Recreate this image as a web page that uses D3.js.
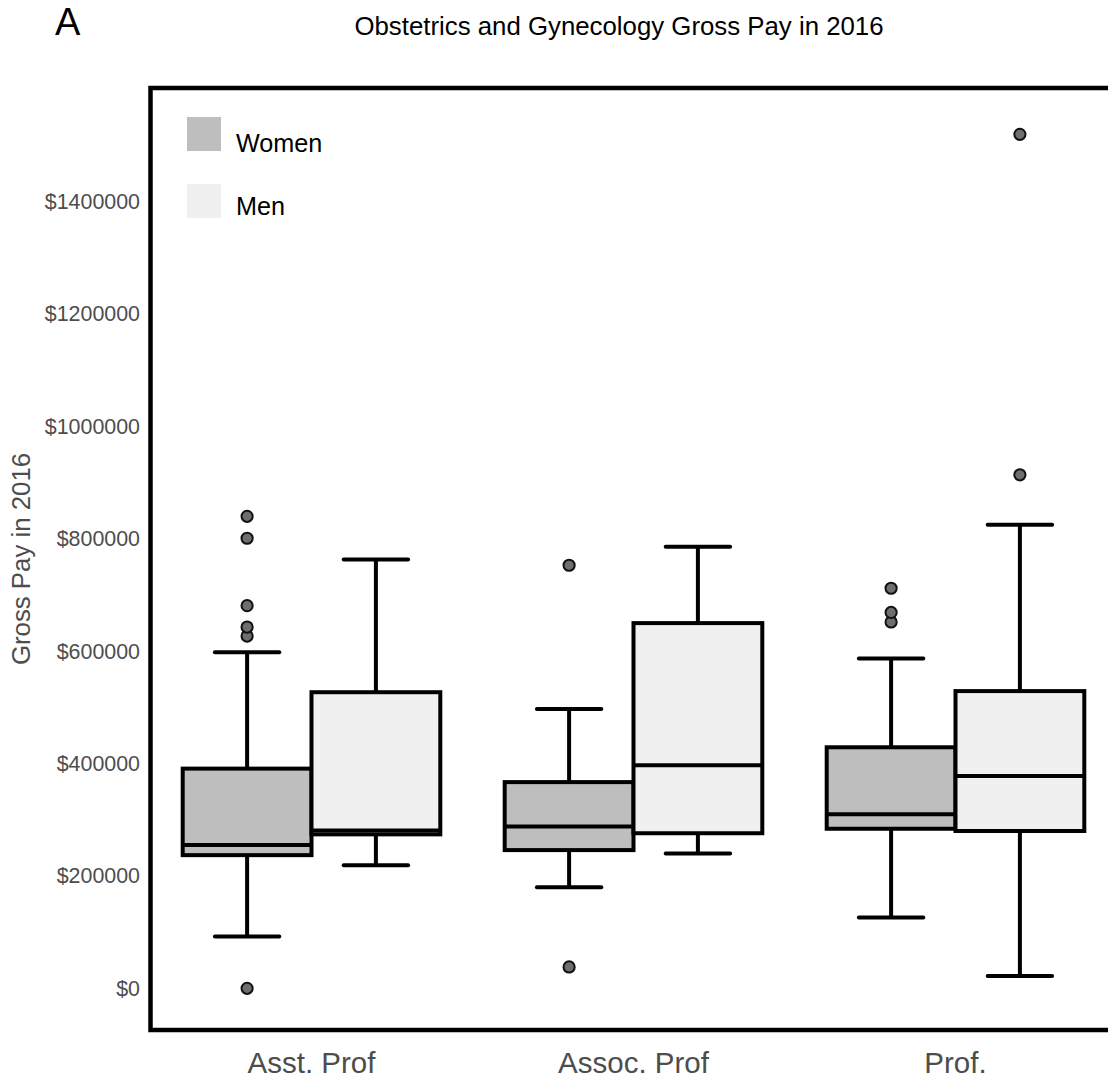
<!DOCTYPE html>
<html>
<head>
<meta charset="utf-8">
<script src="https://cdn.jsdelivr.net/npm/d3@7"></script>
<style>
  body { margin: 0; background: #fff; overflow: hidden; }
  text { font-family: "Liberation Sans", Arial, Helvetica, sans-serif; }
</style>
</head>
<body>
<svg id="chart" width="1108" height="1080"></svg>
<script>
// Data
const categories = ["Asst. Prof", "Assoc. Prof", "Prof."];
const groups = ["Women", "Men"];
const groupFills = ["#bebebe", "#f0f0f0"];

// five-number summaries per category: lower whisker, Q1, median, Q3, upper whisker
const womenBoxes = [
    [92000, 237000, 255000, 391000, 598000],
    [180000, 246000, 288000, 367000, 497000],
    [126000, 284000, 310000, 429000, 587000]
];
const menBoxes = [
    [219000, 274000, 281000, 527000, 763000],
    [240000, 276000, 397000, 650000, 786000],
    [22000, 280000, 378000, 529000, 825000]
];
const womenOutliers = [
    [0, 627000, 643000, 681000, 801000, 840000],
    [38000, 753000],
    [652000, 669000, 712000]
];
const menOutliers = [
    [],
    [],
    [914000, 1520000]
];
const yTicks = [0, 200000, 400000, 600000, 800000, 1000000, 1200000, 1400000];

let viewBoxplot = {
    render: function() {
        const svg = d3.select("#chart");
        svg.selectAll("*").remove();

        const panel = { left: 150.5, top: 88, right: 1116.5, bottom: 1030 };
        const lw = 4;

        // build rows for drawing
        let rows = [];
        categories.forEach((c, i) => {
            [womenBoxes, menBoxes].forEach((boxes, g) => {
                const s = boxes[i];
                rows.push({
                    category: c, group: groups[g], fill: groupFills[g],
                    lo: s[0], q1: s[1], med: s[2], q3: s[3], hi: s[4],
                    outliers: [womenOutliers, menOutliers][g][i]
                });
            });
        });

        // Scales
        const x = d3.scaleBand()
            .domain(categories)
            .range([panel.left, panel.right])
            .paddingInner(0)
            .paddingOuter(0);
        const xGroup = d3.scaleBand()
            .domain(groups)
            .range([0, x.bandwidth()])
            .paddingInner(0)
            .paddingOuter(0.25);
        const y = d3.scaleLinear()
            .domain([-74200, 1602400])
            .range([panel.bottom, panel.top]);

        const bw = xGroup.bandwidth();
        const cx = d => x(d.category) + xGroup(d.group) + bw / 2;

        const plot = svg.append("g");

        // outliers
        rows.forEach(d => {
            plot.selectAll(null)
                .data(d.outliers)
                .enter().append("circle")
                .attr("cx", cx(d))
                .attr("cy", v => y(v))
                .attr("r", 5.6)
                .attr("fill", "#6e6e6e")
                .attr("stroke", "#111")
                .attr("stroke-width", 2);
        });

        const boxes = plot.selectAll(".box").data(rows).enter().append("g")
            .attr("class", "box");

        // whiskers
        boxes.append("line")
            .attr("x1", cx).attr("x2", cx)
            .attr("y1", d => y(d.q3)).attr("y2", d => y(d.hi))
            .attr("stroke", "#000").attr("stroke-width", lw);
        boxes.append("line")
            .attr("x1", cx).attr("x2", cx)
            .attr("y1", d => y(d.q1)).attr("y2", d => y(d.lo))
            .attr("stroke", "#000").attr("stroke-width", lw);
        // whisker caps
        ["hi", "lo"].forEach(k => {
            boxes.append("line")
                .attr("x1", d => cx(d) - bw / 4).attr("x2", d => cx(d) + bw / 4)
                .attr("y1", d => y(d[k])).attr("y2", d => y(d[k]))
                .attr("stroke", "#000").attr("stroke-width", lw)
                .attr("stroke-linecap", "round");
        });

        // boxes
        boxes.append("rect")
            .attr("x", d => cx(d) - bw / 2)
            .attr("width", bw)
            .attr("y", d => y(d.q3))
            .attr("height", d => y(d.q1) - y(d.q3))
            .attr("fill", d => d.fill)
            .attr("stroke", "#000")
            .attr("stroke-width", lw);
        boxes.append("line")
            .attr("x1", d => cx(d) - bw / 2).attr("x2", d => cx(d) + bw / 2)
            .attr("y1", d => y(d.med)).attr("y2", d => y(d.med))
            .attr("stroke", "#000").attr("stroke-width", lw);

        // frame
        svg.append("rect")
            .attr("x", panel.left).attr("y", panel.top)
            .attr("width", panel.right - panel.left)
            .attr("height", panel.bottom - panel.top)
            .attr("fill", "none")
            .attr("stroke", "#000")
            .attr("stroke-width", 4.5);

        // Axes
        const yAxis = d3.axisLeft(y)
            .tickValues(yTicks)
            .tickSize(0)
            .tickPadding(10.5)
            .tickFormat(d => "$" + d);
        const gy = svg.append("g")
            .attr("transform", `translate(${panel.left},0)`)
            .call(yAxis);
        gy.select(".domain").remove();
        gy.selectAll("text")
            .style("font-size", "21.4px")
            .attr("fill", "#4d4d4d");

        const xAxis = d3.axisBottom(x)
            .tickSize(0)
            .tickPadding(22.4);
        const gx = svg.append("g")
            .attr("transform", `translate(0,${panel.bottom})`)
            .call(xAxis);
        gx.select(".domain").remove();
        gx.selectAll("text")
            .style("font-size", "29.5px")
            .attr("fill", "#4d4d4d");

        // axis title
        svg.append("text")
            .attr("transform", `translate(30,${(panel.top + panel.bottom) / 2}) rotate(-90)`)
            .attr("text-anchor", "middle")
            .style("font-size", "25.8px")
            .attr("fill", "#4d4d4d")
            .text("Gross Pay in 2016");

        // title and panel tag
        svg.append("text")
            .attr("x", 619).attr("y", 34.5)
            .attr("text-anchor", "middle")
            .style("font-size", "25.8px")
            .attr("fill", "#000")
            .text("Obstetrics and Gynecology Gross Pay in 2016");
        svg.append("text")
            .attr("x", 55).attr("y", 35)
            .style("font-size", "38px")
            .attr("fill", "#000")
            .text("A");

        // Legend
        const legend = svg.append("g").attr("transform", "translate(187,117)");
        const items = legend.selectAll(".key").data(groups).enter().append("g")
            .attr("class", "key")
            .attr("transform", (d, i) => `translate(0,${i * 67})`);
        items.append("rect")
            .attr("width", 34).attr("height", 34)
            .attr("fill", (d, i) => groupFills[i]);
        items.append("text")
            .attr("x", 49).attr("y", (d, i) => 35 - 4 * i)
            .style("font-size", "25.2px")
            .attr("fill", "#000")
            .text(d => d);
    }
};

viewBoxplot.render();
</script>
</body>
</html>
